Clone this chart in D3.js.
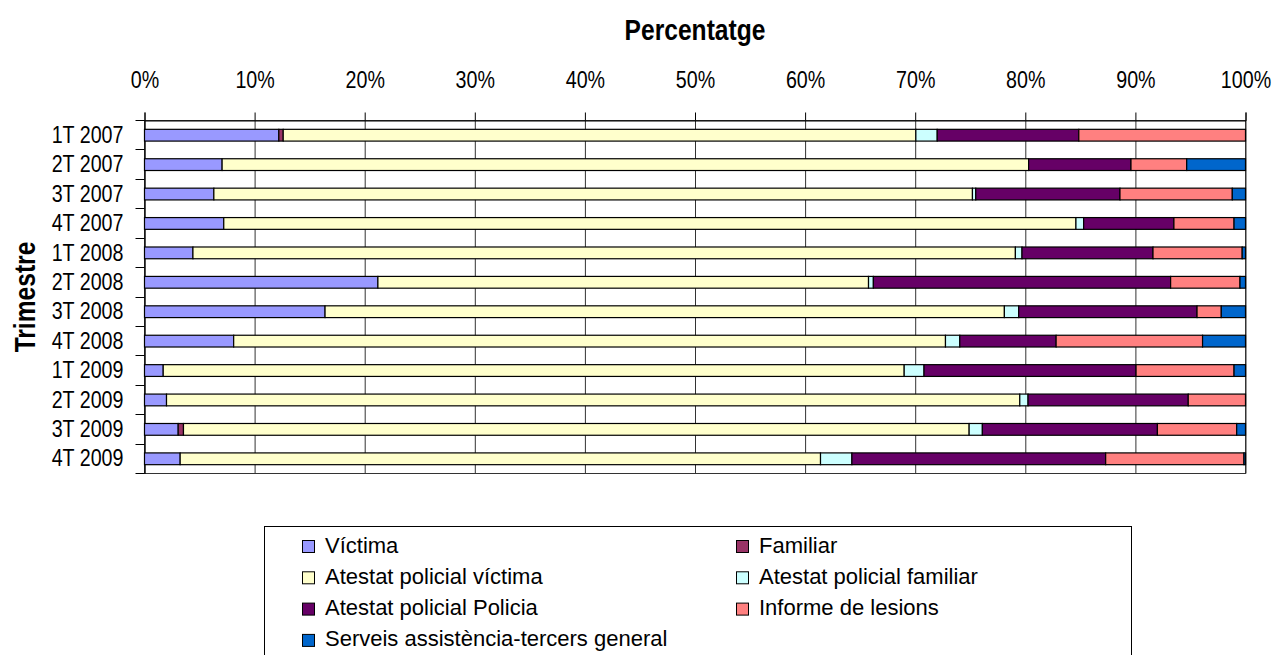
<!DOCTYPE html>
<html lang="ca">
<head>
<meta charset="UTF-8">
<title>Percentatge per trimestre</title>
<script src="https://d3js.org/d3.v7.min.js"></script>
<style>
    body { margin: 0; background: #fff; }
    svg { display: block; }
    .axis text, .cat text { font-family: "Liberation Sans", Arial, sans-serif; font-size: 24px; fill: #000; }
    .title { font-family: "Liberation Sans", Arial, sans-serif; font-size: 30px; font-weight: bold; }
    .legend text { font-family: "Liberation Sans", Arial, sans-serif; font-size: 22px; fill: #000; }
</style>
</head>
<body>
<svg width="1276" height="655"></svg>
<script>
// trimestres
const categories = ["1T 2007", "2T 2007", "3T 2007", "4T 2007", "1T 2008", "2T 2008",
                    "3T 2008", "4T 2008", "1T 2009", "2T 2009", "3T 2009", "4T 2009"];

// percentatges llegits del gràfic (per trimestre)
const victima         = [12.2, 7.05, 6.3, 7.2, 4.4, 21.2, 16.4, 8.1, 1.7, 2.0, 3.06, 3.24];
const familiar        = [0.4, 0, 0, 0, 0, 0, 0, 0, 0, 0, 0.48, 0];
const atestatVictima  = [57.46, 73.25, 68.9, 77.4, 74.7, 44.56, 61.7, 64.65, 67.3, 77.5, 71.36, 58.16];
const atestatFamiliar = [1.94, 0, 0.3, 0.7, 0.6, 0.44, 1.3, 1.3, 1.8, 0.75, 1.2, 2.85];
const atestatPolicia  = [12.86, 9.3, 13.1, 8.2, 11.9, 27.0, 16.2, 8.75, 19.26, 14.55, 15.9, 23.05];
const informe         = [15.14, 5.06, 10.2, 5.46, 8.1, 6.3, 2.2, 13.3, 8.9, 5.2, 7.2, 12.56];
const serveis         = [0, 5.34, 1.2, 1.04, 0.3, 0.5, 2.2, 3.9, 1.04, 0, 0.8, 0.14];

const seriesNames = ["Víctima", "Familiar", "Atestat policial víctima", "Atestat policial familiar",
                     "Atestat policial Policia", "Informe de lesions", "Serveis assistència-tercers general"];
const seriesValues = [victima, familiar, atestatVictima, atestatFamiliar, atestatPolicia, informe, serveis];
const colors = ["#9999FF", "#993366", "#FFFFCC", "#CCFFFF", "#660066", "#FF8080", "#0066CC"];

const tickValues = d3.range(0, 1.0001, 0.1);

// taula per a d3.stack
const rows = categories.map((c, i) => {
    const r = { cat: c };
    seriesNames.forEach((s, j) => r[s] = seriesValues[j][i]);
    return r;
});

const svg = d3.select("svg");
const plotLeft = 144.5, plotRight = 1245.5, plotTop = 120.5, plotBottom = 473.5;
const narrow = 0.82; // no hi ha Arial Narrow: s'estreny la lletra

const x = d3.scaleLinear().domain([0, 1]).range([plotLeft, plotRight]);
const y = d3.scaleBand().domain(categories).range([plotTop, plotBottom])
    .paddingInner(0.6).paddingOuter(0.3);

// línies de la graella
svg.append("g")
    .attr("transform", `translate(0,${plotTop})`)
    .call(d3.axisTop(x).tickValues(tickValues).tickSize(-(plotBottom - plotTop)).tickFormat(""))
    .call(g => g.select(".domain").remove())
    .selectAll("line").attr("stroke", "#333");

// vora de l'àrea del gràfic
svg.append("rect")
    .attr("x", plotLeft).attr("y", plotTop)
    .attr("width", plotRight - plotLeft).attr("height", plotBottom - plotTop)
    .attr("fill", "none").attr("stroke", "#333");

// eix de valors a dalt
svg.append("g")
    .attr("class", "axis")
    .attr("transform", `translate(0,${plotTop})`)
    .call(d3.axisTop(x).tickValues(tickValues).tickSize(8).tickPadding(25).tickFormat(d3.format(".0%")))
    .call(g => g.select(".domain").attr("stroke", "#000"))
    .call(g => g.selectAll("line").attr("stroke", "#000"))
    .call(g => g.selectAll("text").attr("transform", `scale(${narrow},1)`));

// eix de categories
svg.append("g")
    .attr("class", "cat")
    .attr("transform", `translate(${plotLeft},0)`)
    .call(d3.axisLeft(y).tickSize(0).tickPadding(21))
    .call(g => g.select(".domain").attr("stroke", "#000"))
    .call(g => g.selectAll("text")
        .attr("x", -21 / narrow)
        .attr("transform", `scale(${narrow},1)`));

const bounds = d3.range(categories.length + 1).map(i => plotTop + i * y.step());
svg.append("g").selectAll("line")
    .data(bounds)
    .join("line")
    .attr("x1", plotLeft - 9).attr("x2", plotLeft)
    .attr("y1", d => Math.floor(d) + 0.5).attr("y2", d => Math.floor(d) + 0.5)
    .attr("stroke", "#000");

// barres apilades al 100%
const stack = d3.stack().keys(seriesNames).offset(d3.stackOffsetExpand);
const layers = stack(rows);

svg.append("g").selectAll("g")
    .data(layers)
    .join("g")
    .attr("fill", (d, i) => colors[i])
    .selectAll("rect")
    .data(d => d)
    .join("rect")
    .attr("x", d => x(d[0]))
    .attr("y", d => y(d.data.cat))
    .attr("width", d => x(d[1]) - x(d[0]))
    .attr("height", y.bandwidth())
    .attr("stroke", "#000")
    .attr("stroke-width", 1.2);

// títols dels eixos
svg.append("text")
    .attr("class", "title")
    .attr("transform", `translate(${(plotLeft + plotRight) / 2},40) scale(${narrow},1)`)
    .attr("text-anchor", "middle")
    .text("Percentatge");

svg.append("text")
    .attr("class", "title")
    .attr("transform", `translate(35,${(plotTop + plotBottom) / 2}) rotate(-90) scale(${narrow},1)`)
    .attr("text-anchor", "middle")
    .text("Trimestre");

// llegenda
const legend = svg.append("g").attr("class", "legend");
legend.append("rect")
    .attr("x", 264.5).attr("y", 526.5)
    .attr("width", 867).attr("height", 160)
    .attr("fill", "#fff").attr("stroke", "#000");

const item = legend.selectAll("g.item")
    .data(seriesNames)
    .join("g")
    .attr("class", "item")
    .attr("transform", (d, i) => `translate(${i % 2 === 0 ? 302 : 736},${540 + Math.floor(i / 2) * 31.3})`);

item.append("rect")
    .attr("x", 0.5).attr("y", 0.5)
    .attr("width", 12).attr("height", 12)
    .attr("fill", (d, i) => colors[i])
    .attr("stroke", "#000");

item.append("text")
    .attr("x", 23)
    .attr("y", 12.5)
    .text(d => d);
</script>
</body>
</html>
